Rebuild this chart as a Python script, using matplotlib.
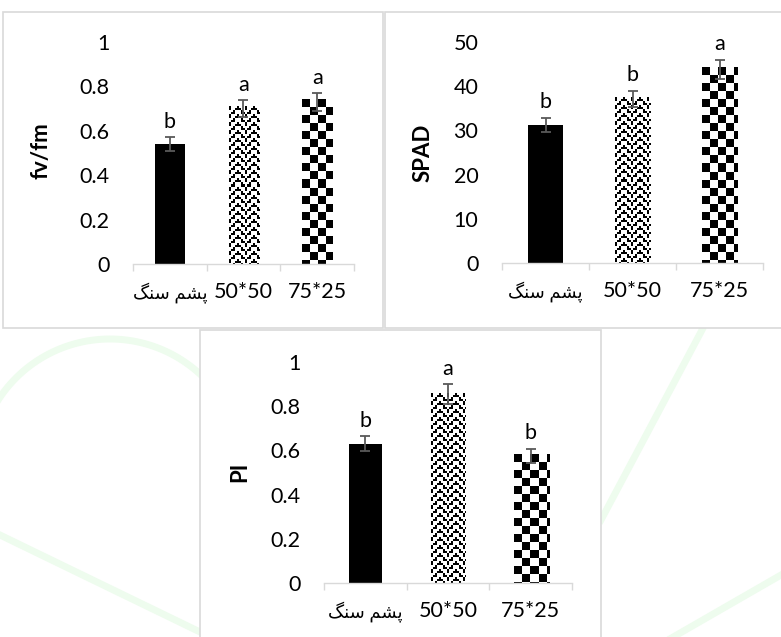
import matplotlib
matplotlib.use("Agg")
import matplotlib.pyplot as plt
import numpy as np
from matplotlib.patches import Rectangle
from matplotlib.lines import Line2D

plt.rcParams['font.family'] = ['Lato', 'DejaVu Sans']

# data
categories = ["پشم سنگ", "50*50", "75*25"]

fvfm = [0.54, 0.70, 0.73]
fvfm_err = [0.03, 0.037, 0.04]
fvfm_letters = ["b", "a", "a"]

spad = [31.2, 37.1, 43.8]
spad_err = [1.6, 1.9, 2.2]
spad_letters = ["b", "b", "a"]

pi = [0.63, 0.855, 0.575]
pi_err = [0.033, 0.045, 0.032]
pi_letters = ["b", "a", "b"]

W, H = 781, 637
FS = 15.5

# presentation forms: isolated, final, initial, medial
FORMS = {
    'پ': ('\uFB56', '\uFB57', '\uFB58', '\uFB59'),
    'ش': ('\uFEB5', '\uFEB6', '\uFEB7', '\uFEB8'),
    'م': ('\uFEE1', '\uFEE2', '\uFEE3', '\uFEE4'),
    'س': ('\uFEB1', '\uFEB2', '\uFEB3', '\uFEB4'),
    'ن': ('\uFEE5', '\uFEE6', '\uFEE7', '\uFEE8'),
    'گ': ('\uFB92', '\uFB93', '\uFB94', '\uFB95'),
}


def shape_fa(s):
    # matplotlib has no bidi/shaping, so do it by hand
    if not any(ch in FORMS for ch in s):
        return s
    out = []
    for i, ch in enumerate(s):
        if ch not in FORMS:
            out.append(ch)
            continue
        prev = i > 0 and s[i - 1] in FORMS
        nxt = i < len(s) - 1 and s[i + 1] in FORMS
        idx = 3 if (prev and nxt) else 1 if prev else 2 if nxt else 0
        out.append(FORMS[ch][idx])
    return ''.join(reversed(out))


def px_rect(x0, x1, y_top, y_bot):
    return [x0 / W, 1 - y_bot / H, (x1 - x0) / W, (y_bot - y_top) / H]


def checker_tile(n=4):
    t = np.zeros((2 * n, 2 * n))
    t[:n, :n] = 1
    t[n:, n:] = 1
    return np.kron(t, np.ones((2, 2)))


def zigzag_tile():
    t = np.zeros((8, 8))
    for x in range(8):
        y0 = abs(x - 4)
        t[y0 % 8, x] = 1
        t[(y0 + 4) % 8, x] = 1
        if x % 2 == 0:
            t[(y0 + 1) % 8, x] = 1
            t[(y0 + 5) % 8, x] = 1
    return np.kron(t, np.ones((2, 2)))


def texture_fill(ax, bar, tile):
    bb = bar.get_window_extent()
    th, tw = tile.shape
    nx = int(np.ceil(bb.width)) + 1
    ny = int(np.ceil(bb.height)) + 1
    arr = np.tile(tile, (ny // th + 1, nx // tw + 1))[:ny, :nx]
    dx = bar.get_width() / bb.width
    dy = bar.get_height() / bb.height
    x0 = bar.get_x()
    ax.imshow(arr[::-1], extent=[x0, x0 + nx * dx, 0, ny * dy], origin='lower',
              cmap='gray_r', vmin=0, vmax=1, interpolation='nearest',
              aspect='auto', clip_path=bar, zorder=2)


def panel(fig, rect, values, errs, letters, ymax, step, ylabel, lab_xy, fmt):
    ax = fig.add_axes(rect)
    ax.patch.set_alpha(0)
    x = np.arange(len(values))
    bars = ax.bar(x, values, width=0.4, color='white', edgecolor='none', zorder=1)
    bars[0].set_facecolor('black')
    ax.set_xlim(-0.5, 2.5)
    ax.set_ylim(0, ymax)
    texture_fill(ax, bars[1], zigzag_tile())
    texture_fill(ax, bars[2], checker_tile(4))
    ax.set_xlim(-0.5, 2.5)
    ax.set_ylim(0, ymax)
    ax.errorbar(x, values, yerr=errs, fmt='none', ecolor='#595959',
                elinewidth=1.3, capsize=3.5, capthick=1.3, zorder=3)
    for xi, v, e, lt in zip(x, values, errs, letters):
        ax.annotate(lt, (xi, v + e), xytext=(0, 4), textcoords='offset points',
                    ha='center', va='bottom', fontsize=FS, color='black')
    ticks = np.arange(0, ymax + step / 2, step)
    ax.set_yticks(ticks)
    ax.set_yticklabels([fmt(t) for t in ticks])
    ax.set_xticks(x)
    ax.set_xticklabels([shape_fa(c) for c in categories])
    ax.set_xticks([-0.5, 0.5, 1.5, 2.5], minor=True)
    ax.tick_params(axis='y', length=0, pad=17, labelsize=FS)
    ax.tick_params(axis='x', which='major', length=0, pad=13, labelsize=FS)
    ax.tick_params(axis='x', which='minor', length=5, width=1, color='#d9d9d9')
    for lbl, c in zip(ax.get_xticklabels(), categories):
        if shape_fa(c) != c:
            lbl.set_fontsize(13)
    for s in ('left', 'top', 'right'):
        ax.spines[s].set_visible(False)
    ax.spines['bottom'].set_color('#d9d9d9')
    ax.spines['bottom'].set_linewidth(1)
    ax.set_ylabel(ylabel, fontsize=16, fontweight='bold')
    ax.yaxis.set_label_coords(*lab_xy)
    return ax


def frac_fmt(t):
    return "0" if t == 0 else ("1" if t == 1 else f"{t:.1f}")


def main():
    fig = plt.figure(figsize=(W / 100, H / 100), dpi=100)

    # faint green background watermark strokes
    wm = '#eefcee'
    th = np.linspace(np.radians(38), np.radians(152), 60)
    strokes = [
        (110 + 133 * np.cos(th), 472 - 133 * np.sin(th)),
        (np.array([0, 200]), np.array([535, 632])),
        (np.array([601, 702]), np.array([520, 330])),
        (np.array([781, 668]), np.array([575, 640])),
    ]
    for xs, ys in strokes:
        fig.add_artist(Line2D(xs / W, 1 - ys / H, transform=fig.transFigure,
                              color=wm, linewidth=5, zorder=-2))

    # panel frames
    for x0, x1, yt, yb in [(3, 383, 12, 328), (385, 790, 12, 328), (200, 601, 330, 645)]:
        fig.patches.append(Rectangle((x0 / W, 1 - yb / H), (x1 - x0) / W, (yb - yt) / H,
                                     transform=fig.transFigure, facecolor='white',
                                     edgecolor='#d9d9d9', linewidth=1.2, zorder=-1))

    panel(fig, px_rect(133, 354, 42, 264), fvfm, fvfm_err, fvfm_letters,
          1.0, 0.2, "fv/fm", (-0.367, 0.51), frac_fmt)
    panel(fig, px_rect(502, 763, 42, 263), spad, spad_err, spad_letters,
          50, 10, "SPAD", (-0.264, 0.50), lambda t: f"{t:.0f}")
    panel(fig, px_rect(324, 572, 362, 583), pi, pi_err, pi_letters,
          1.0, 0.2, "PI", (-0.298, 0.505), frac_fmt)

    fig.savefig("out.png", dpi=100, facecolor='white')


if __name__ == "__main__":
    main()
